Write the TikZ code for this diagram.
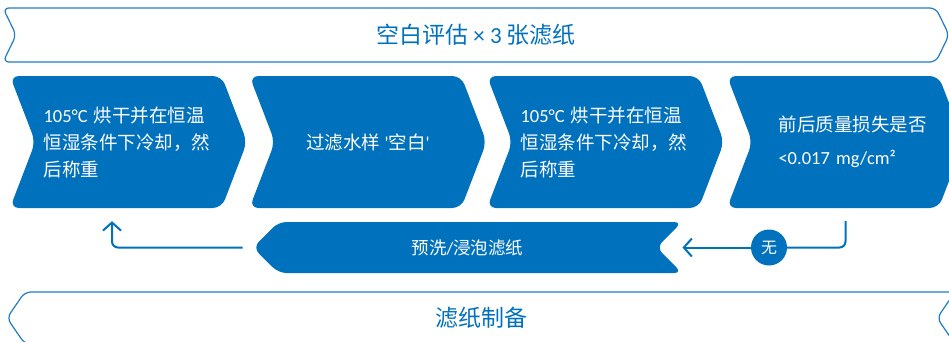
\documentclass[tikz,border=0pt]{standalone}
\usepackage{fontspec}
\setmainfont{Carlito}
\newfontfamily\cjk{Noto Sans CJK SC}
\usetikzlibrary{shapes.symbols,arrows.meta}
\definecolor{flowblue}{RGB}{0,113,188}
\definecolor{rimblue}{RGB}{30,125,196}

\begin{document}
\begin{tikzpicture}[x=1pt,y=-1pt]
  \tikzset{
    stage/.style={signal, signal to=east, signal from=west, signal pointer angle=138,
      fill=flowblue, text=white, rounded corners=9pt, minimum width=237pt,
      minimum height=132pt, inner sep=0pt, font=\fontsize{18.5}{27}\selectfont},
    banner/.style={signal, draw=rimblue, line width=1.2pt, text=flowblue,
      rounded corners=6pt, inner sep=0pt, font=\fontsize{23}{27}\selectfont},
    flow/.style={draw=flowblue, line width=2pt, rounded corners=6pt},
    tip/.style={-{Straight Barb[length=8pt,width=18pt]}}
  }
  \useasboundingbox (0,0) rectangle (949,341);

  % banners
  \node[banner, signal to=east, signal from=west, signal pointer angle=128,
    minimum width=946pt, minimum height=54pt] (assess) at (476,35)
    {{\cjk 空白评估} × 3 {\cjk 张滤纸}};
  \node[banner, signal to=west, signal from=east, signal pointer angle=111,
    minimum width=948pt, minimum height=52pt] (prep) at (481,318)
    {{\cjk 滤纸制备}};

  % stages
  \node[stage, text width=170pt, align=left] (c1) at (128.5,142)
    {105°C {\cjk 烘干并在恒温}\\{\cjk 恒湿条件下冷却，然}\\{\cjk 后称重}};
  \node[stage] (c2) at (368,142)
    {{\cjk 过滤水样} \textquotesingle{\cjk 空白}\textquotesingle};
  \node[stage, text width=170pt, align=left] (c3) at (605.5,142)
    {105°C {\cjk 烘干并在恒温}\\{\cjk 恒湿条件下冷却，然}\\{\cjk 后称重}};
  \node[stage, text width=134pt, align=left] (c4) at (845.5,142)
    {{\cjk 前后质量损失是否}\\[6pt]<0.017 mg/cm²};

  % wash step
  \node[signal, signal to=west, signal from=east, fill=flowblue, text=white,
    rounded corners=8pt, minimum width=429pt, minimum height=51pt, inner sep=0pt,
    font=\fontsize{17.5}{20}\selectfont] (wash) at (467.5,247.5)
    {{\cjk 预洗}/{\cjk 浸泡滤纸}};
  \node[circle, fill=flowblue, text=white, minimum size=36pt, inner sep=0pt,
    font=\fontsize{16}{16}\selectfont\cjk] (no) at (769,247.5) {无};

  % connectors
  \draw[flow, tip, shorten <=10pt] (wash.west) -| ([xshift=-16.5pt,yshift=-13pt]c1.south);
  \draw[flow] ([yshift=-13pt]c4.south) |- (no.east);
  \draw[flow, tip] (no.west) -- (no -| wash.north east);
\end{tikzpicture}
\end{document}
